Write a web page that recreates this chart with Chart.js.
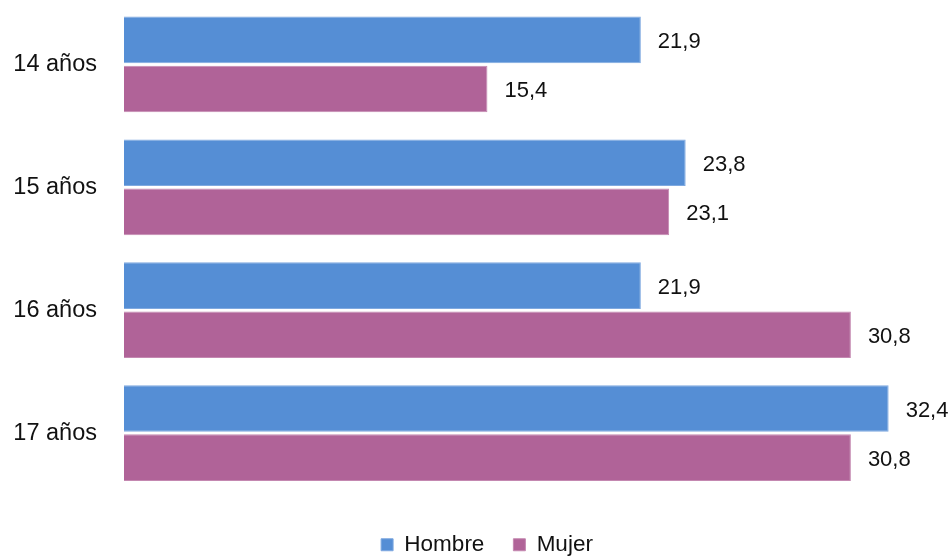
<!DOCTYPE html>
<html>
<head>
<meta charset="utf-8">
<script src="https://cdn.jsdelivr.net/npm/chart.js@4"></script>
<style>
html,body{margin:0;padding:0;background:#fff;overflow:hidden;width:950px;height:556px}
#wrap{width:950px;height:566px;position:relative}
</style>
</head>
<body>
<div id="wrap"><canvas id="c" width="950" height="566"></canvas></div>
<script>
const categories = ["14 años", "15 años", "16 años", "17 años"];
const hombre = [21.9, 23.8, 21.9, 32.4];
const mujer = [15.4, 23.1, 30.8, 30.8];
const seriesNames = ["Hombre", "Mujer"];

const FONT = "'Liberation Sans', Arial, Helvetica, sans-serif";

const valueLabels = {
  id: 'valueLabels',
  afterDatasetsDraw(chart) {
    const ctx = chart.ctx;
    ctx.save();
    ctx.font = "22px " + FONT;
    ctx.fillStyle = "#111";
    ctx.textAlign = "left";
    ctx.textBaseline = "middle";
    chart.data.datasets.forEach((ds, di) => {
      const meta = chart.getDatasetMeta(di);
      meta.data.forEach((bar, i) => {
        const txt = ds.data[i].toFixed(1).replace('.', ',');
        ctx.fillText(txt, bar.x + 17, bar.y + 2);
      });
    });
    ctx.restore();
  }
};

const legendShift = {
  id: 'legendShift',
  afterLayout(chart) {
    if (chart.legend) { chart.legend.left += 12; chart.legend.right += 12; }
  }
};

new Chart(document.getElementById('c'), {
  type: 'bar',
  data: {
    labels: categories,
    datasets: [
      { label: seriesNames[0], data: hombre, backgroundColor: '#558ED5', borderColor: '#7FA9E0', borderWidth: 1,
        categoryPercentage: 0.8, barPercentage: 0.95 },
      { label: seriesNames[1], data: mujer, backgroundColor: '#B06398', borderColor: '#C488B1', borderWidth: 1,
        categoryPercentage: 0.8, barPercentage: 0.95 }
    ]
  },
  options: {
    indexAxis: 'y',
    responsive: false,
    animation: false,
    events: [],
    layout: { padding: { top: 3, left: 0, right: 0, bottom: 0 } },
    scales: {
      x: {
        min: 0, max: 35,
        display: true,
        grid: { display: false, drawTicks: false },
        border: { display: false },
        ticks: { display: false },
        afterFit(scale) { scale.height = 10; scale.paddingLeft = 0; scale.paddingRight = 0; }
      },
      y: {
        grid: { display: false, drawTicks: false },
        border: { display: false },
        ticks: { color: '#111', font: { family: FONT, size: 23.5 }, padding: 27 },
        afterFit(scale) { scale.width = 124; scale.paddingTop = 0; scale.paddingBottom = 0; }
      }
    },
    plugins: {
      legend: {
        position: 'bottom',
        labels: {
          boxWidth: 12, boxHeight: 12, padding: 29,
          color: '#111',
          font: { family: FONT, size: 22.5 }
        }
      },
      tooltip: { enabled: false }
    }
  },
  plugins: [valueLabels, legendShift]
});
</script>
</body>
</html>
